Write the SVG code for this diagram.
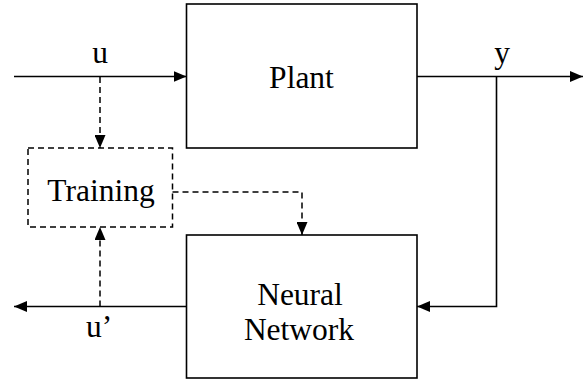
<svg xmlns="http://www.w3.org/2000/svg" width="583" height="379" viewBox="0 0 583 379">
<defs>
<marker id="ah" markerUnits="userSpaceOnUse" markerWidth="14" markerHeight="11" refX="13" refY="5.5" orient="auto">
<path d="M0,0 L13,5.5 L0,11 Z" fill="#000"/>
</marker>
</defs>
<style>
.box{fill:#fff;stroke:#000;stroke-width:1.6}
.dbox{fill:none;stroke:#000;stroke-width:1.5;stroke-dasharray:6,4}
.ln{fill:none;stroke:#000;stroke-width:1.6}
.dl{fill:none;stroke:#000;stroke-width:1.5;stroke-dasharray:6,4}
.t{font-family:'Liberation Serif','Times New Roman',serif;font-size:31.5px;fill:#000;text-anchor:middle}
</style>
<rect width="583" height="379" fill="#fff"/>
<g id="connectors">
<path class="ln" d="M14,76.5 H186.5" marker-end="url(#ah)"/>
<path class="ln" d="M417,76.5 H583" marker-end="url(#ah)"/>
<path class="ln" d="M496.5,76.5 V306.5 H417" marker-end="url(#ah)"/>
<path class="ln" d="M186.5,306.5 H14" marker-end="url(#ah)"/>
<path class="dl" d="M100,77 V148" marker-end="url(#ah)"/>
<path class="dl" d="M100,306.5 V227" marker-end="url(#ah)"/>
<path class="dl" d="M172.5,192 H302 V235" marker-end="url(#ah)"/>
<text class="t" x="100" y="63">u</text>
<text class="t" x="502" y="63">y</text>
<text class="t" x="99" y="337">u’</text>
</g>
<g id="plant">
<rect class="box" x="186.5" y="4" width="230.5" height="144"/>
<text class="t" x="301.5" y="88">Plant</text>
</g>
<g id="training">
<rect class="dbox" x="28" y="148" width="144.5" height="79"/>
<text class="t" x="101" y="201">Training</text>
</g>
<g id="neural-network">
<rect class="box" x="186.5" y="235" width="230.5" height="143"/>
<text class="t" x="300" y="305">Neural</text>
<text class="t" x="299" y="340">Network</text>
</g>
</svg>
